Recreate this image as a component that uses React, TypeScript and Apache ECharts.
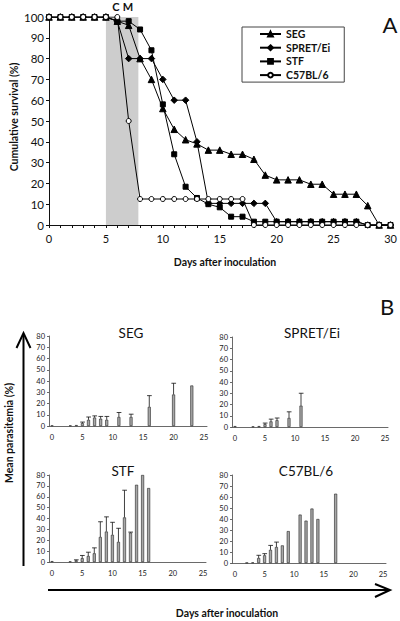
import React, { useEffect, useRef } from "react";
import * as echarts from "echarts";

// ---------- Panel A: cumulative survival ----------
const survivalDays = [0, 1, 2, 3, 4, 5, 6, 7, 8, 9, 10, 11, 12, 13, 14, 15, 16, 17, 18, 19, 20, 21, 22, 23, 24, 25, 26, 27, 28, 29, 30];
const segSurvival = [100, 100, 100, 100, 100, 100, 98, 96, 80, 70, 56, 46, 41, 39, 36, 36, 34, 34, 31.6, 24, 21.7, 21.7, 21.7, 19.6, 19.6, 14.8, 14.8, 14.8, 9.3, 0, 0];
const spretSurvival = [100, 100, 100, 100, 100, 100, 98, 80, 80, 80, 70, 60, 60, 40, 10.4, 10.4, 10.4, 10.4, 10.4, 10.4, 1.6, 1.6, 1.6, 1.6, 1.6, 1.6, 1.6, 1.6, 0, 0, 0];
const stfSurvival = [100, 100, 100, 100, 100, 100, 98, 98, 94, 84, 58, 34, 18.4, 13, 10, 8.5, 4, 4, 1.6, 1.6, 1.6, 1.6, 1.6, 1.6, 1.6, 1.6, 1.6, 1.6, 0, 0, 0];
const c57Survival = [100, 100, 100, 100, 100, 100, 100, 50, 12.5, 12.5, 12.5, 12.5, 12.5, 12.5, 12.5, 12.5, 12.5, 12.5, 0, 0, 0, 0, 0, 0, 0, 0, 0, 0, 0, 0, 0];
const strainNames = ["SEG", "SPRET/Ei", "STF", "C57BL/6"];
const shadeRange = [5, 7.85];

// ---------- Panel B: mean parasitemia ----------
const parasiteDayLabels = ["0", "1", "2", "3", "4", "5", "6", "7", "8", "9", "10", "11", "12", "13", "14", "15", "16", "17", "18", "19", "20", "21", "22", "23", "24", "25"];

const segDays = [0, 3, 4, 5, 6, 7, 8, 9, 11, 13, 16, 20, 23];
const segMean = [0.5, 0.5, 0.8, 2.5, 5.5, 7.5, 6.5, 5.5, 8, 8, 17, 28, 36];
const segUpper = [null, null, null, 3.5, 8, 9, 8.5, 8.5, 12, 10.5, 27, 38, null];

const spretDays = [0, 3, 4, 5, 6, 7, 9, 11];
const spretMean = [0.8, 0.5, 0.8, 2.5, 5, 6, 8, 19];
const spretUpper = [null, null, null, 3.5, 7, 8, 13.5, 30];

const stfDays = [0, 3, 4, 5, 6, 7, 8, 9, 10, 11, 12, 13, 14, 15, 16];
const stfMean = [0.8, 0.5, 1.5, 3.5, 5.5, 8, 23, 28, 25, 18.5, 41, 27, 71, 80, 68];
const stfUpper = [null, null, 2, 6, 9, 13, 37, 41.5, 36.5, 31, 66, 27.5, null, null, null];

const c57Days = [2, 3, 4, 5, 6, 7, 8, 9, 11, 12, 13, 14, 17];
const c57Mean = [0.3, 0.5, 4.5, 7, 12, 14.5, 16, 29, 44, 38.5, 49.5, 40, 63];
const c57Upper = [null, null, 7, 8.5, 16, 19, null, null, null, null, null, null, null];

const FONT = "Lato";

export default function App() {
  const ref = useRef<HTMLDivElement>(null);

  useEffect(() => {
    if (!ref.current) return;
    const chart = echarts.init(ref.current, undefined, { renderer: "svg" });

    const lineSeries = (name: string, values: number[], symbol: string, size: number, fill: string, idx: number) => ({
      name,
      type: "line",
      xAxisIndex: 0,
      yAxisIndex: 0,
      data: survivalDays.map((d, i) => [d, values[i]]),
      symbol,
      symbolSize: size,
      showAllSymbol: true,
      lineStyle: { color: "#000", width: 1 },
      itemStyle: { color: fill, borderColor: "#000", borderWidth: 1 },
      z: 3 + idx,
      ...(idx === 0
        ? {
            markArea: {
              silent: true,
              itemStyle: { color: "#cdcdcd" },
              data: [[{ xAxis: shadeRange[0] }, { xAxis: shadeRange[1] }]],
            },
          }
        : {}),
    });

    const panels = [
      { title: "SEG", days: segDays, mean: segMean, upper: segUpper, grid: { left: 49, top: 336, width: 158, height: 90 }, tx: 131, ty: 333 },
      { title: "SPRET/Ei", days: spretDays, mean: spretMean, upper: spretUpper, grid: { left: 232, top: 337, width: 156, height: 90 }, tx: 312, ty: 333 },
      { title: "STF", days: stfDays, mean: stfMean, upper: stfUpper, grid: { left: 49, top: 475, width: 157, height: 87 }, tx: 123, ty: 471 },
      { title: "C57BL/6", days: c57Days, mean: c57Mean, upper: c57Upper, grid: { left: 232, top: 475, width: 154, height: 88 }, tx: 306, ty: 471 },
    ];

    const grids: any[] = [{ left: 49, top: 17, width: 341.5, height: 208 }];
    const xAxes: any[] = [
      {
        type: "value",
        gridIndex: 0,
        min: 0,
        max: 30,
        interval: 1,
        axisLine: { lineStyle: { color: "#111", width: 1 } },
        axisTick: { length: 3, lineStyle: { color: "#111" } },
        axisLabel: {
          fontSize: 11,
          color: "#111",
          margin: 8,
          fontFamily: FONT,
          formatter: (v: number) => (v % 5 === 0 ? String(v) : ""),
        },
        splitLine: { show: false },
      },
    ];
    const yAxes: any[] = [
      {
        type: "value",
        gridIndex: 0,
        min: 0,
        max: 100,
        interval: 10,
        axisLine: { show: true, lineStyle: { color: "#111", width: 1 } },
        axisTick: { show: true, length: 3, lineStyle: { color: "#111" } },
        axisLabel: { fontSize: 11.5, color: "#111", margin: 5, fontFamily: FONT },
        splitLine: { show: false },
      },
    ];
    const series: any[] = [
      lineSeries(strainNames[0], segSurvival, "triangle", 6.5, "#000", 0),
      lineSeries(strainNames[1], spretSurvival, "diamond", 6.5, "#000", 1),
      lineSeries(strainNames[2], stfSurvival, "rect", 5, "#000", 2),
      lineSeries(strainNames[3], c57Survival, "circle", 5, "#fff", 3),
    ];

    panels.forEach((p, k) => {
      const gi = k + 1;
      grids.push(p.grid);
      xAxes.push({
        type: "category",
        gridIndex: gi,
        data: parasiteDayLabels,
        boundaryGap: true,
        axisLine: { lineStyle: { color: "#444", width: 0.8 } },
        axisTick: { interval: 0, length: 2, lineStyle: { color: "#444", width: 0.8 } },
        axisLabel: { interval: 4, fontSize: 7.5, color: "#222", margin: 7, fontFamily: FONT },
        splitLine: { show: false },
      });
      yAxes.push({
        type: "value",
        gridIndex: gi,
        min: 0,
        max: 80,
        interval: 10,
        axisLine: { show: true, lineStyle: { color: "#444", width: 0.8 } },
        axisTick: { show: true, length: 2, lineStyle: { color: "#444", width: 0.8 } },
        axisLabel: { fontSize: 7.5, color: "#222", margin: 4, fontFamily: FONT },
        splitLine: { show: false },
      });
      series.push({
        type: "bar",
        xAxisIndex: gi,
        yAxisIndex: gi,
        barWidth: 3,
        data: p.days.map((d, i) => [d, p.mean[i]]),
        itemStyle: { color: "#a8a8a8", borderColor: "#222", borderWidth: 0.6 },
        z: 2,
      });
      series.push({
        type: "custom",
        xAxisIndex: gi,
        yAxisIndex: gi,
        data: p.days
          .map((d, i) => [d, p.mean[i], p.upper[i]])
          .filter((r) => r[2] !== null),
        renderItem: (_params: any, api: any) => {
          const x = api.value(0);
          const p0 = api.coord([x, api.value(1)]);
          const p1 = api.coord([x, api.value(2)]);
          const st = { stroke: "#111", lineWidth: 0.8 };
          return {
            type: "group",
            children: [
              { type: "line", shape: { x1: p0[0], y1: p0[1], x2: p1[0], y2: p1[1] }, style: st },
              { type: "line", shape: { x1: p1[0] - 2.2, y1: p1[1], x2: p1[0] + 2.5, y2: p1[1] }, style: st },
            ],
          };
        },
        z: 3,
      });
    });

    const txt = (text: string, x: number, y: number, size: number, weight: any = "normal", rotation = 0) => ({
      type: "text",
      x,
      y,
      rotation,
      style: { text, fontSize: size, fontWeight: weight, fontFamily: FONT, fill: "#111", align: "center", verticalAlign: "middle" },
    });

    const graphic: any[] = [
      txt("A", 390, 24, 22),
      txt("B", 387, 306, 22),
      txt("C", 116, 6, 11, "bold"),
      txt("M", 128, 6, 11, "bold"),
      txt("Cumulative survival (%)", 14, 117, 10.5, "bold", Math.PI / 2),
      txt("Days after inoculation", 225, 262, 10.5, "bold"),
      txt("Mean parasitemia (%)", 9, 433, 10.5, "bold", Math.PI / 2),
      txt("Days after inoculation", 227, 613, 10.5, "bold"),
      ...panels.map((p) => txt(p.title, p.tx, p.ty, 13.5, "normal")),
      { type: "line", shape: { x1: 23.5, y1: 334, x2: 23.5, y2: 566 }, style: { stroke: "#000", lineWidth: 2 } },
      { type: "polyline", shape: { points: [[16.5, 348], [23.5, 333], [30.5, 348]] }, style: { stroke: "#000", lineWidth: 2, fill: null } },
      { type: "line", shape: { x1: 48, y1: 590, x2: 389, y2: 590 }, style: { stroke: "#000", lineWidth: 2 } },
      { type: "polyline", shape: { points: [[375, 584], [390, 590], [375, 597]] }, style: { stroke: "#000", lineWidth: 2, fill: null } },
    ];

    chart.setOption({
      animation: false,
      backgroundColor: "#fff",
      textStyle: { fontFamily: FONT },
      legend: {
        data: strainNames,
        orient: "vertical",
        left: 242,
        top: 27,
        itemWidth: 21,
        itemHeight: 6,
        itemGap: 1.7,
        padding: [1, 14, 1, 17],
        borderColor: "#444",
        borderWidth: 1,
        textStyle: { fontSize: 10.5, fontWeight: "bold", color: "#111", fontFamily: FONT, lineHeight: 12 },
      },
      grid: grids,
      xAxis: xAxes,
      yAxis: yAxes,
      series,
      graphic,
    });

    return () => chart.dispose();
  }, []);

  return (
    <div
      ref={ref}
      style={{ position: "fixed", left: 0, top: 0, width: 400, height: 621, background: "#fff" }}
    />
  );
}
